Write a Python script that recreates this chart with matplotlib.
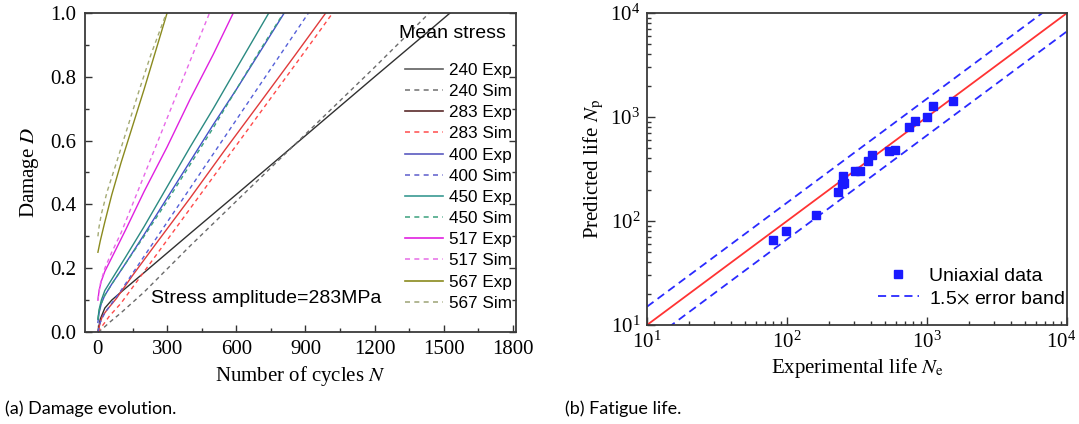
import matplotlib
matplotlib.use("Agg")
import matplotlib.pyplot as plt
from matplotlib.lines import Line2D
from matplotlib.ticker import MultipleLocator, LogLocator, FixedLocator, NullFormatter
from matplotlib.transforms import ScaledTranslation

plt.rcParams['font.family'] = ['Liberation Serif', 'DejaVu Serif']
plt.rcParams['mathtext.fontset'] = 'stix'

# ---------------- data: (a) damage evolution ----------------
labels = ["240 Exp", "240 Sim", "283 Exp", "283 Sim", "400 Exp", "400 Sim",
          "450 Exp", "450 Sim", "517 Exp", "517 Sim", "567 Exp", "567 Sim"]

n_240_exp = [0, 10, 30, 60, 100, 200, 400, 600, 800, 1000, 1200, 1400, 1527]
d_240_exp = [0.0, 0.04, 0.075, 0.10, 0.125, 0.186, 0.309, 0.431, 0.554, 0.677, 0.80, 0.922, 1.0]
n_240_sim = [0, 20, 50, 100, 200, 400, 600, 800, 1000, 1200, 1437]
d_240_sim = [0.0, 0.01, 0.03, 0.06, 0.125, 0.27, 0.41, 0.55, 0.69, 0.83, 1.0]

n_283_exp = [0, 10, 20, 40, 80, 150, 250, 400, 550, 700, 850, 988]
d_283_exp = [0.0, 0.03, 0.05, 0.07, 0.105, 0.177, 0.275, 0.42, 0.57, 0.716, 0.863, 1.0]
n_283_sim = [0, 20, 50, 100, 200, 300, 400, 500, 600, 700, 800, 900, 1018]
d_283_sim = [0.0, 0.02, 0.05, 0.09, 0.189, 0.288, 0.387, 0.486, 0.585, 0.684, 0.783, 0.882, 1.0]

n_400_exp = [0, 5, 15, 30, 60, 120, 200, 300, 400, 500, 600, 700, 808]
d_400_exp = [0.03, 0.06, 0.09, 0.115, 0.15, 0.215, 0.305, 0.42, 0.535, 0.65, 0.76, 0.875, 1.0]
n_400_sim = [0, 10, 30, 60, 100, 200, 300, 400, 500, 600, 700, 800, 913]
d_400_sim = [0.0, 0.03, 0.06, 0.09, 0.13, 0.237, 0.344, 0.451, 0.558, 0.665, 0.772, 0.879, 1.0]

n_450_exp = [0, 5, 15, 30, 60, 120, 200, 300, 400, 500, 600, 741]
d_450_exp = [0.04, 0.07, 0.10, 0.13, 0.165, 0.235, 0.33, 0.455, 0.58, 0.70, 0.825, 1.0]
n_450_sim = [0, 5, 15, 30, 60, 120, 200, 300, 400, 500, 600, 700, 805]
d_450_sim = [0.04, 0.065, 0.09, 0.115, 0.15, 0.215, 0.30, 0.41, 0.525, 0.64, 0.76, 0.88, 1.0]

n_517_exp = [0, 5, 15, 30, 60, 120, 200, 300, 400, 500, 587]
d_517_exp = [0.10, 0.13, 0.16, 0.19, 0.233, 0.32, 0.44, 0.58, 0.73, 0.87, 1.0]
n_517_sim = [0, 10, 30, 60, 100, 200, 300, 400, 484]
d_517_sim = [0.10, 0.15, 0.20, 0.25, 0.31, 0.49, 0.67, 0.85, 1.0]

n_567_exp = [0, 10, 30, 60, 100, 150, 200, 250, 300]
d_567_exp = [0.25, 0.285, 0.345, 0.43, 0.53, 0.645, 0.76, 0.88, 1.0]
n_567_sim = [0, 5, 15, 40, 80, 130, 180, 230, 297]
d_567_sim = [0.30, 0.33, 0.37, 0.44, 0.53, 0.645, 0.76, 0.87, 1.0]

series_n = [n_240_exp, n_240_sim, n_283_exp, n_283_sim, n_400_exp, n_400_sim,
            n_450_exp, n_450_sim, n_517_exp, n_517_sim, n_567_exp, n_567_sim]
series_d = [d_240_exp, d_240_sim, d_283_exp, d_283_sim, d_400_exp, d_400_sim,
            d_450_exp, d_450_sim, d_517_exp, d_517_sim, d_567_exp, d_567_sim]

line_colors = ["#303030", "#6a6a6a", "#e03a3a", "#ff4a4a", "#4450c8", "#5560d8",
               "#2a8a82", "#3aa080", "#e020e0", "#e868e8", "#8a8a1e", "#a4aa74"]
legend_colors = ["#606060", "#7a7a7a", "#5a2a2a", "#ff5a5a", "#5a5ac0", "#6a6ad0",
                 "#3a9a92", "#4aa888", "#e020e0", "#e878e8", "#8a8a1e", "#a4aa80"]
is_sim = [False, True] * 6

# ---------------- data: (b) fatigue life ----------------
exp_life = [80, 98, 160, 231, 248, 252, 257, 306, 332, 382, 408, 537, 587, 739, 825, 1000, 1104, 1535]
pred_life = [66, 80, 113, 191, 229, 271, 233, 305, 305, 375, 428, 474, 480, 807, 908, 1000, 1285, 1436]
diag = [10, 10000]
band_factor = 1.5
decades = [10, 100, 1000, 10000]

W, H = 1079, 424
fig = plt.figure(figsize=(W / 100, H / 100), dpi=100)

def fx(px):
    return px / W

def fy(py):
    return 1 - py / H

# ---------------- left panel ----------------
axL = fig.add_axes([fx(85), fy(332), fx(516 - 85), (332 - 13) / H])
for n, d, c, sim, lab in zip(series_n, series_d, line_colors, is_sim, labels):
    if sim:
        axL.plot(n, d, color=c, lw=1.0, ls=(0, (3.0, 2.6)), label=lab)
    else:
        axL.plot(n, d, color=c, lw=1.0, ls='-', label=lab)

axL.set_xlim(-56, 1813)
axL.set_ylim(0, 1.0)
axL.xaxis.set_major_locator(MultipleLocator(300))
axL.xaxis.set_minor_locator(MultipleLocator(150))
axL.yaxis.set_major_locator(MultipleLocator(0.2))
axL.yaxis.set_minor_locator(MultipleLocator(0.1))
axL.yaxis.set_major_formatter(matplotlib.ticker.FormatStrFormatter('%.1f'))
axL.tick_params(which='both', direction='in', right=True, top=False, colors='#333333',
                labelcolor='black', labelsize=15, width=1.0)
axL.tick_params(which='major', length=5, pad=6)
axL.tick_params(which='minor', length=3)
for s in axL.spines.values():
    s.set_linewidth(1.3)
    s.set_color('#3a3a3a')
axL.set_xlabel(r"Number of cycles $N$", fontsize=15, labelpad=3)
axL.set_ylabel(r"Damage $D$", fontsize=15, labelpad=7)

handles = []
for c, sim, lab in zip(legend_colors, is_sim, labels):
    handles.append(Line2D([], [], color=c, lw=1.2, ls=(0, (3.0, 2.6)) if sim else '-', label=lab))
leg = axL.legend(handles=handles, loc='upper left', bbox_to_anchor=(fx(405), fy(63)),
                 bbox_transform=fig.transFigure, frameon=False, borderpad=0, borderaxespad=0,
                 handlelength=2.22, handletextpad=0.35, labelspacing=0.36,
                 prop={'family': 'Liberation Sans', 'size': 12.3})

fig.text(fx(452), fy(33), "Mean stress", ha='center', va='center',
         family='Liberation Sans', fontsize=14)
axL.text(232, 0.105, "Stress amplitude=283MPa", ha='left', va='center',
         family='Liberation Sans', fontsize=14)

# ---------------- right panel ----------------
axR = fig.add_axes([fx(647), fy(325), fx(1067 - 647), (325 - 13) / H])
axR.set_xscale('log')
axR.set_yscale('log')
axR.plot(diag, diag, color='#ff3333', lw=1.3)
axR.plot(diag, [v * band_factor for v in diag], color='#2a2aff', lw=1.3, ls=(0, (4.5, 2.8)),
         label=r"1.5$\times$ error band")
axR.plot(diag, [v / band_factor for v in diag], color='#2a2aff', lw=1.3, ls=(0, (4.5, 2.8)))
axR.plot(exp_life, pred_life, ls='none', marker='s', ms=5.5, color='#1a1aff',
         mec='#1a1aff', label="Uniaxial data")
axR.set_xlim(10, 1e4)
axR.set_ylim(10, 1e4)
for a in (axR.xaxis, axR.yaxis):
    a.set_major_locator(FixedLocator(decades))
    a.set_minor_locator(LogLocator(base=10, subs=range(2, 10), numticks=10))
    a.set_minor_formatter(NullFormatter())
axR.tick_params(which='both', direction='in', colors='#333333', labelcolor='black',
                labelsize=15, width=1.0)
axR.tick_params(which='major', length=6, pad=5)
axR.tick_params(which='minor', length=3)
for s in axR.spines.values():
    s.set_linewidth(1.3)
    s.set_color('#3a3a3a')
axR.set_xlabel(r"Experimental life $N_\mathrm{e}$", fontsize=15, labelpad=2)
axR.set_ylabel(r"Predicted life $N_\mathrm{p}$", fontsize=15, labelpad=3)

# nudge the last x tick label so it stays inside the figure
last = axR.xaxis.get_major_ticks()[-1]
last.label1.set_transform(last.label1.get_transform() +
                          ScaledTranslation(-4 / 72, 0, fig.dpi_scale_trans))

h, l = axR.get_legend_handles_labels()
axR.legend([h[1], h[0]], [l[1], l[0]], loc='upper left', bbox_to_anchor=(fx(878), fy(267)),
           bbox_transform=fig.transFigure, frameon=False, borderpad=0, borderaxespad=0,
           handlelength=2.1, handletextpad=0.5, labelspacing=0.25,
           prop={'family': 'Liberation Sans', 'size': 14})

# ---------------- captions ----------------
fig.text(fx(5), fy(409), "(a) Damage evolution.", ha='left', va='center',
         family=['Lato', 'DejaVu Sans'], fontsize=13)
fig.text(fx(565), fy(409), "(b) Fatigue life.", ha='left', va='center',
         family=['Lato', 'DejaVu Sans'], fontsize=13)

fig.savefig("out.png", dpi=100)
